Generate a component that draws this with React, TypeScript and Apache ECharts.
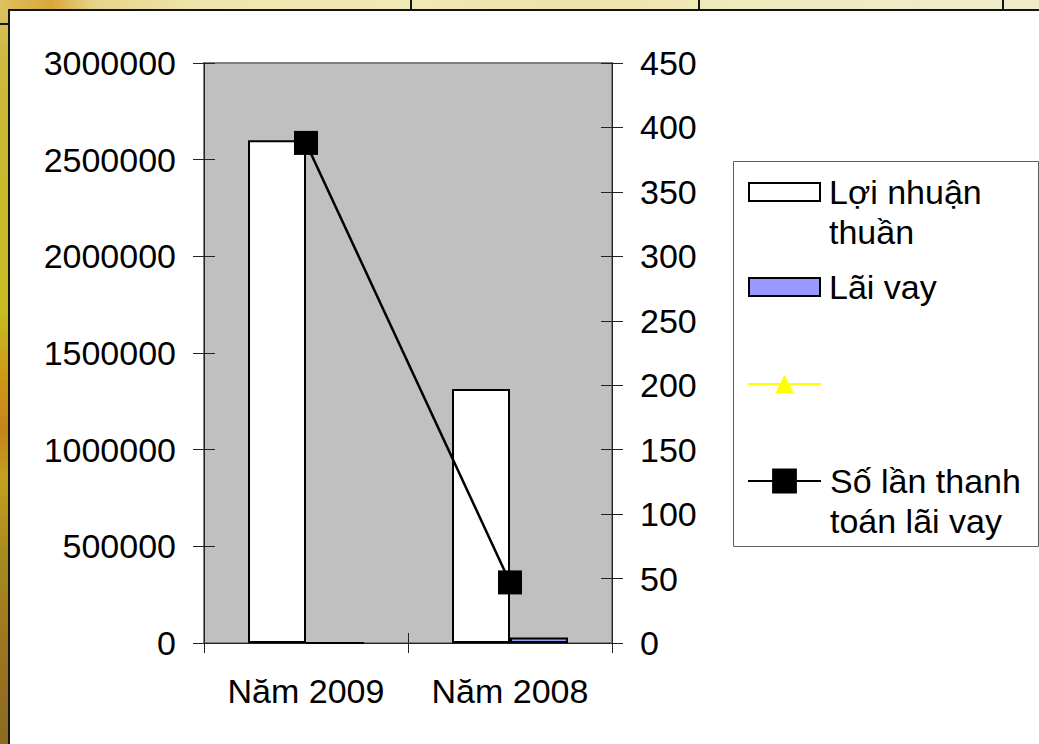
import { useEffect, useRef } from "react";
import * as echarts from "echarts";

// Categories and values
const categories = ["Năm 2009", "Năm 2008"];
const loiNhuanThuan = [2600000, 1314000];
const laiVay = [0, 28000];
const soLanThanhToan = [388, 47];
const emptySeries: (number | null)[] = [null, null];

// Axis scales
const leftMin = 0;
const leftMax = 3000000;
const leftInterval = 500000;
const rightMin = 0;
const rightMax = 450;
const rightInterval = 50;

const NAME_LN = "Lợi nhuận thuần";
const NAME_LV = "Lãi vay";
const NAME_BLANK = " ";
const NAME_SL = "Số lần thanh toán lãi vay";

// Legend label lines; two-line labels start with an empty line so the
// first line sits level with the icon
const legendLines: Record<string, string[]> = {
  [NAME_LN]: ["Lợi nhuận", "thuần"],
  [NAME_LV]: ["Lãi vay"],
  [NAME_BLANK]: [" "],
  [NAME_SL]: ["Số lần thanh", "toán lãi vay"],
};

const legendFormatter = (n: string) => {
  const lines = legendLines[n].map((l) => `{t|${l}}`);
  return lines.length > 1 ? ["{t| }", ...lines].join("\n") : lines[0];
};

const FONT = "Liberation Sans";
const FONT_SIZE = 34;

export default function App() {
  const ref = useRef<HTMLDivElement>(null);

  useEffect(() => {
    if (!ref.current) return;
    const chart = echarts.init(ref.current, undefined, { renderer: "svg" });

    const axisText = { fontFamily: FONT, fontSize: FONT_SIZE, color: "#000" };
    const legendText = {
      fontFamily: FONT,
      fontSize: FONT_SIZE,
      color: "#000",
      lineHeight: 40,
      rich: {
        t: {
          fontFamily: FONT,
          fontSize: FONT_SIZE,
          color: "#000",
          lineHeight: 40,
          padding: [0, 0, 0, 4],
        },
      },
    };

    chart.setOption({
      animation: false,
      grid: {
        left: 204,
        right: 427,
        top: 63,
        bottom: 101,
        show: true,
        backgroundColor: "#c0c0c0",
        borderColor: "#808080",
        borderWidth: 2,
      },
      xAxis: [
        {
          type: "category",
          data: categories,
          position: "bottom",
          axisLine: { show: true, lineStyle: { color: "#222", width: 1 } },
          axisTick: { show: true, inside: false, length: 10, lineStyle: { color: "#222" } },
          axisLabel: { ...axisText, margin: 31 },
          splitLine: { show: false },
        },
        {
          type: "category",
          data: categories,
          position: "bottom",
          axisLine: { show: false },
          axisTick: { show: true, inside: true, length: 10, lineStyle: { color: "#222" } },
          axisLabel: { show: false },
          splitLine: { show: false },
        },
      ],
      yAxis: [
        {
          type: "value",
          position: "left",
          min: leftMin,
          max: leftMax,
          interval: leftInterval,
          axisLine: { show: true, lineStyle: { color: "#222", width: 1 } },
          axisTick: { show: true, inside: false, length: 11, lineStyle: { color: "#222" } },
          axisLabel: { ...axisText, margin: 28, formatter: (v: number) => String(v) },
          splitLine: { show: false },
        },
        {
          type: "value",
          position: "right",
          min: rightMin,
          max: rightMax,
          interval: rightInterval,
          axisLine: { show: true, lineStyle: { color: "#222", width: 1 } },
          axisTick: { show: true, inside: false, length: 11, lineStyle: { color: "#222" } },
          axisLabel: { ...axisText, margin: 28, formatter: (v: number) => String(v) },
          splitLine: { show: false },
        },
        {
          type: "value",
          position: "left",
          min: leftMin,
          max: leftMax,
          interval: leftInterval,
          axisLine: { show: false },
          axisTick: { show: true, inside: true, length: 11, lineStyle: { color: "#222" } },
          axisLabel: { show: false },
          splitLine: { show: false },
        },
        {
          type: "value",
          position: "right",
          min: rightMin,
          max: rightMax,
          interval: rightInterval,
          axisLine: { show: false },
          axisTick: { show: true, inside: true, length: 11, lineStyle: { color: "#222" } },
          axisLabel: { show: false },
          splitLine: { show: false },
        },
      ],
      legend: [
        {
          data: [NAME_LN],
          left: 748,
          top: 132,
          padding: 0,
          icon: "rect",
          itemWidth: 71,
          itemHeight: 18,
          selectedMode: false,
          formatter: legendFormatter,
          textStyle: legendText,
        },
        {
          data: [NAME_LV],
          left: 748,
          top: 267,
          padding: 0,
          icon: "rect",
          itemWidth: 71,
          itemHeight: 18,
          selectedMode: false,
          formatter: legendFormatter,
          textStyle: legendText,
        },
        {
          data: [NAME_BLANK],
          left: 747,
          top: 364,
          padding: 0,
          itemWidth: 73,
          itemHeight: 23,
          selectedMode: false,
          formatter: legendFormatter,
          textStyle: legendText,
        },
        {
          data: [NAME_SL],
          left: 747,
          top: 421,
          padding: 0,
          itemWidth: 73,
          itemHeight: 31,
          selectedMode: false,
          formatter: legendFormatter,
          textStyle: legendText,
        },
      ],
      graphic: [
        {
          type: "rect",
          z: -1,
          shape: { x: 733.5, y: 161.5, width: 305, height: 385 },
          style: { fill: "#fff", stroke: "#606060", lineWidth: 1 },
        },
      ],
      series: [
        {
          name: NAME_LN,
          type: "bar",
          xAxisIndex: 0,
          yAxisIndex: 0,
          data: loiNhuanThuan,
          barWidth: 58,
          barGap: "0%",
          itemStyle: { color: "#ffffff", borderColor: "#000", borderWidth: 2 },
        },
        {
          name: NAME_LV,
          type: "bar",
          xAxisIndex: 0,
          yAxisIndex: 0,
          data: laiVay,
          barWidth: 58,
          barGap: "0%",
          itemStyle: { color: "#9999ff", borderColor: "#000", borderWidth: 2 },
        },
        {
          name: NAME_BLANK,
          type: "line",
          xAxisIndex: 0,
          yAxisIndex: 1,
          data: emptySeries,
          symbol: "triangle",
          symbolSize: 18,
          itemStyle: { color: "#ffff00" },
          lineStyle: { color: "#ffff00", width: 2 },
        },
        {
          name: NAME_SL,
          type: "line",
          xAxisIndex: 0,
          yAxisIndex: 1,
          data: soLanThanhToan,
          symbol: "rect",
          symbolSize: 24,
          z: 5,
          itemStyle: { color: "#000" },
          lineStyle: { color: "#000", width: 2.5 },
        },
      ],
    });

    return () => chart.dispose();
  }, []);

  return (
    <div
      style={{
        position: "absolute",
        left: 0,
        top: 0,
        width: 1039,
        height: 744,
        overflow: "hidden",
        background:
          "linear-gradient(to bottom, #dcc468 0%, #cdb83e 8%, #c9ba2c 25%, #c6bb22 42%, #cf9a18 50%, #c6841a 58%, #c2a020 64%, #a88a1e 75%, #9a7420 88%, #8c6a1e 100%)",
      }}
    >
      <div
        style={{
          position: "absolute",
          left: 0,
          top: 0,
          width: 1039,
          height: 10,
          background:
            "linear-gradient(to right, #e0c05e 0%, #d9a83a 5%, #e6d48a 9%, #efe6ae 20%, #f0e8b6 40%, #ece4a8 55%, #f1ebc2 75%, #efeacb 100%)",
        }}
      />
      {[410, 698, 1002].map((x) => (
        <div
          key={x}
          style={{ position: "absolute", left: x, top: 0, width: 2, height: 10, background: "#141414" }}
        />
      ))}
      <div style={{ position: "absolute", left: 0, top: 23, width: 9, height: 2, background: "#141414" }} />
      <div
        style={{
          position: "absolute",
          left: 8,
          top: 9,
          width: 1031,
          height: 735,
          background: "#fff",
          borderTop: "2px solid #141414",
          borderLeft: "2px solid #141414",
          boxSizing: "border-box",
        }}
      />
      <div ref={ref} style={{ position: "absolute", left: 0, top: 0, width: 1039, height: 744 }} />
    </div>
  );
}
